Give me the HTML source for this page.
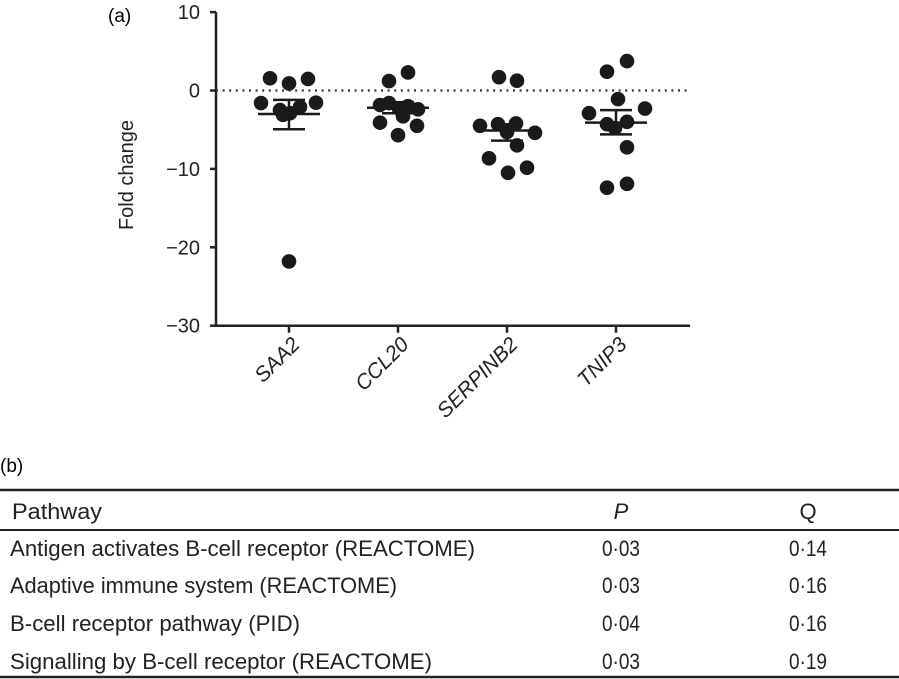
<!DOCTYPE html>
<html><head><meta charset="utf-8"><style>
body{margin:0;background:#fff;}
svg{display:block;font-family:"Liberation Sans",Arial,sans-serif;}
</style></head><body>
<svg id="fig" width="899" height="679" viewBox="0 0 899 679">
<text x="108" y="22" font-size="19">(a)</text>
<g id="chart"></g>
<text x="0" y="472" font-size="19">(b)</text>
<g>
<line x1="0" y1="490" x2="899" y2="490" stroke="#222" stroke-width="2.5"/>
<line x1="0" y1="530" x2="899" y2="530" stroke="#222" stroke-width="2"/>
<line x1="0" y1="677" x2="899" y2="677" stroke="#222" stroke-width="2.5"/>
<g font-size="22" fill="#222">
<text x="12" y="519" textLength="90" lengthAdjust="spacingAndGlyphs">Pathway</text>
<text x="621" y="519" text-anchor="middle" font-style="italic">P</text>
<text x="808" y="519" text-anchor="middle">Q</text>
<text x="10" y="556" textLength="465" lengthAdjust="spacingAndGlyphs">Antigen activates B-cell receptor (REACTOME)</text>
<text x="621" y="556" text-anchor="middle" textLength="38" lengthAdjust="spacingAndGlyphs">0·03</text>
<text x="808" y="556" text-anchor="middle" textLength="38" lengthAdjust="spacingAndGlyphs">0·14</text>
<text x="10" y="593" textLength="387" lengthAdjust="spacingAndGlyphs">Adaptive immune system (REACTOME)</text>
<text x="621" y="593" text-anchor="middle" textLength="38" lengthAdjust="spacingAndGlyphs">0·03</text>
<text x="808" y="593" text-anchor="middle" textLength="38" lengthAdjust="spacingAndGlyphs">0·16</text>
<text x="10" y="631" textLength="290" lengthAdjust="spacingAndGlyphs">B-cell receptor pathway (PID)</text>
<text x="621" y="631" text-anchor="middle" textLength="38" lengthAdjust="spacingAndGlyphs">0·04</text>
<text x="808" y="631" text-anchor="middle" textLength="38" lengthAdjust="spacingAndGlyphs">0·16</text>
<text x="10" y="669" textLength="422" lengthAdjust="spacingAndGlyphs">Signalling by B-cell receptor (REACTOME)</text>
<text x="621" y="669" text-anchor="middle" textLength="38" lengthAdjust="spacingAndGlyphs">0·03</text>
<text x="808" y="669" text-anchor="middle" textLength="38" lengthAdjust="spacingAndGlyphs">0·19</text>
</g></g>
</svg>
<script>
const categories=["SAA2","CCL20","SERPINB2","TNIP3"];
const yTicks=[10,0,-10,-20,-30];
const saa2Values=[1.56,0.9,1.47,-1.6,-2.5,-2.1,-1.55,-3.1,-2.9,-21.8];
const ccl20Values=[1.2,2.3,-1.85,-1.6,-2.3,-2.0,-2.4,-4.1,-5.7,-4.5,-3.3];
const serpinb2Values=[1.7,1.25,-4.5,-4.3,-4.2,-5.4,-5.3,-7.0,-8.65,-10.5,-9.85];
const tnip3Values=[2.4,3.75,-1.1,-2.9,-2.3,-4.3,-4.0,-4.8,-7.25,-12.4,-11.9];
const jitter=[[-19,0,19,-28,-9,11,27,-6,1,0],[-9,10,-18,-9,1,10,20,-18,0,19,5],[-8,10,-27,-9,9,28,0,10,-18,1,20],[-9,11,2,-27,29,-9,11,-1,11,-9,11]];
const means=[-3.0,-2.2,-5.1,-4.1];
const errTop=[-1.2,-1.5,-4.3,-2.5];
const errBottom=[-4.95,-2.9,-6.4,-5.6];
const series=[saa2Values,ccl20Values,serpinb2Values,tnip3Values];
const NS="http://www.w3.org/2000/svg";
const g=document.getElementById('chart');
const X0=216,X1=690,Y0=90.5,PPU=7.84;
function y(v){return Y0-v*PPU;}
function x(i){return 289+i*109;}
function mk(t,a,p){const e=document.createElementNS(NS,t);for(const k in a)e.setAttribute(k,a[k]);(p||g).appendChild(e);return e;}
let e;
e=mk('line',{x1:X0,y1:y(10),x2:X0,y2:y(-30),stroke:'#222','stroke-width':2.5});


e=mk('line',{x1:X0,y1:y(-30),x2:X1,y2:y(-30),stroke:'#222','stroke-width':2.5});


e=mk('line',{x1:X0,y1:y(0),x2:X1,y2:y(0),stroke:'#333','stroke-width':2.2,'stroke-dasharray':'2 4.6'});


yTicks.forEach(t=>{
 e=mk('line',{x1:X0-6,y1:y(t),x2:X0,y2:y(t),stroke:'#222','stroke-width':2.5});
 
 
 e=mk('text',{x:200,y:y(t)+7,'text-anchor':'end','font-size':20,fill:'#222'});
 e.textContent=t<0?'\u2212'+(-t):String(t);
 
 
});
e=mk('text',{x:0,y:0,'text-anchor':'middle','font-size':20,fill:'#222',transform:'translate(133,175) rotate(-90)'});
e.textContent='Fold change';


categories.forEach((c,i)=>{
 const cx=x(i);
 e=mk('line',{x1:cx,y1:y(-30),x2:cx,y2:y(-30)+7,stroke:'#222','stroke-width':2.5});
 
 
 e=mk('text',{x:0,y:0,'text-anchor':'end','font-size':21,'font-style':'italic',fill:'#222',transform:`translate(${cx+12},${y(-30)+20}) rotate(-45)`});
 e.textContent=c;
 
 
 series[i].forEach((v,j)=>{
  e=mk('circle',{cx:cx+jitter[i][j],cy:y(v),r:7.3,fill:'#1a1a1a'});
  
  
 });
 e=mk('line',{x1:cx-31,y1:y(means[i]),x2:cx+31,y2:y(means[i]),stroke:'#1a1a1a','stroke-width':2.5});
 
 
 e=mk('line',{x1:cx,y1:y(errTop[i]),x2:cx,y2:y(errBottom[i]),stroke:'#1a1a1a','stroke-width':2.5});
 
 
 [errTop[i],errBottom[i]].forEach(v=>{
  e=mk('line',{x1:cx-16,y1:y(v),x2:cx+16,y2:y(v),stroke:'#1a1a1a','stroke-width':2.5});
  
  
 });
});
</script>
</body></html>
